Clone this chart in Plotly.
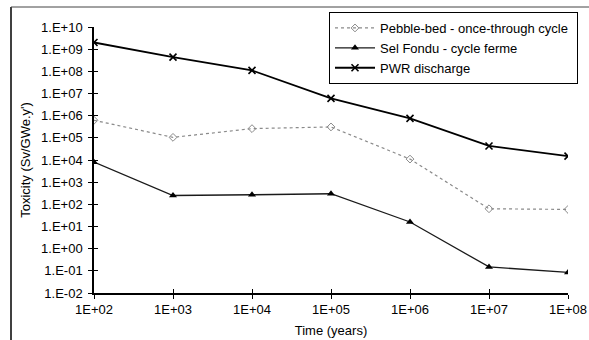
import plotly.graph_objects as go

time_years = [1e2, 1e3, 1e4, 1e5, 1e6, 1e7, 1e8]
pebble_bed = [6.2e5, 1.05e5, 2.6e5, 3.1e5, 1.1e4, 63, 59]
sel_fondu = [8e3, 250, 270, 300, 16, 0.15, 0.085]
pwr_discharge = [2.0e9, 4.4e8, 1.1e8, 6.0e6, 7.5e5, 4.3e4, 1.5e4]

x_tickvals = [1e2, 1e3, 1e4, 1e5, 1e6, 1e7, 1e8]
x_ticktext = ["1E+02", "1E+03", "1E+04", "1E+05", "1E+06", "1E+07", "1E+08"]
y_tickvals = [10.0 ** k for k in range(-2, 11)]
y_ticktext = ["1.E-02", "1.E-01", "1.E+00", "1.E+01", "1.E+02", "1.E+03", "1.E+04",
              "1.E+05", "1.E+06", "1.E+07", "1.E+08", "1.E+09", "1.E+10"]

FONT = "Liberation Sans, Arial, sans-serif"
W, H = 589, 340
L, R, T, B = 94, 21, 27, 47
pw, ph = W - L - R, H - T - B
PAD = "\u00a0"

def px_x(p):
    return (p - L) / pw

def px_y(p):
    return (H - B - p) / ph

fig = go.Figure()
fig.add_trace(go.Scatter(
    x=time_years, y=pebble_bed, name="Pebble-bed - once-through cycle" + PAD,
    mode="lines+markers",
    line=dict(color="#8a8a8a", width=1.2, dash="dot"),
    marker=dict(symbol="diamond-open", size=6, color="#8a8a8a", line=dict(width=1))))
fig.add_trace(go.Scatter(
    x=time_years, y=sel_fondu, name="Sel Fondu - cycle ferme",
    mode="lines+markers",
    line=dict(color="#1a1a1a", width=1.3),
    marker=dict(symbol="triangle-up", size=7, color="#000000")))
fig.add_trace(go.Scatter(
    x=time_years, y=pwr_discharge, name="PWR discharge",
    mode="lines+markers",
    line=dict(color="#000000", width=1.8),
    marker=dict(symbol="x-thin-open", size=7, color="#000000", line=dict(width=1.6))))
# invisible trace so the overlay axes (inside tick halves) are drawn
fig.add_trace(go.Scatter(x=time_years, y=sel_fondu, xaxis="x2", yaxis="y2",
                         mode="markers", marker=dict(opacity=0),
                         showlegend=False, hoverinfo="skip"))

tickfont = dict(family=FONT, size=13, color="#000")
fig.update_layout(
    width=W, height=H,
    margin=dict(l=L, r=R, t=T, b=B, pad=0, autoexpand=False),
    paper_bgcolor="white", plot_bgcolor="white",
    font=dict(family=FONT, size=13, color="#000"),
    xaxis=dict(type="log", range=[2, 8], tickvals=x_tickvals, ticktext=x_ticktext,
               ticks="outside", ticklen=4, tickwidth=1, tickcolor="#000",
               showline=True, linecolor="#000", linewidth=1.5, showgrid=False,
               zeroline=False, tickfont=tickfont, automargin=False,
               title=dict(text="Time (years)", font=dict(family=FONT, size=13), standoff=10)),
    yaxis=dict(type="log", range=[-2, 10], tickvals=y_tickvals, ticktext=y_ticktext,
               ticks="outside", ticklen=4, tickwidth=1, tickcolor="#000",
               showline=True, linecolor="#000", linewidth=1.5, showgrid=False,
               zeroline=False, tickfont=tickfont, ticklabelstandoff=3, automargin=False,
               title=dict(text="Toxicity (Sv/GWe.y')", font=dict(family=FONT, size=13), standoff=8)),
    xaxis2=dict(type="log", range=[2, 8], overlaying="x", anchor="y2", side="bottom",
                tickvals=x_tickvals, automargin=False,
                ticks="inside", ticklen=4, tickwidth=1, tickcolor="#000",
                showticklabels=False, showgrid=False, zeroline=False, showline=False),
    yaxis2=dict(type="log", range=[-2, 10], overlaying="y", anchor="x2", side="left",
                tickvals=y_tickvals, automargin=False,
                ticks="inside", ticklen=4, tickwidth=1, tickcolor="#000",
                showticklabels=False, showgrid=False, zeroline=False, showline=False),
    legend=dict(x=px_x(329), y=px_y(12), xanchor="left", yanchor="top",
                bgcolor="white", bordercolor="#000", borderwidth=1,
                itemwidth=40,
                font=dict(family=FONT, size=13), tracegroupgap=0),
    shapes=[
        dict(type="line", xref="paper", yref="paper", x0=px_x(11), x1=px_x(11),
             y0=px_y(7), y1=px_y(340), line=dict(color="#000", width=1.5)),
        dict(type="line", xref="paper", yref="paper", x0=px_x(11), x1=px_x(589),
             y0=px_y(7), y1=px_y(7), line=dict(color="#444", width=1)),
    ],
)

fig.write_html("out.html")
